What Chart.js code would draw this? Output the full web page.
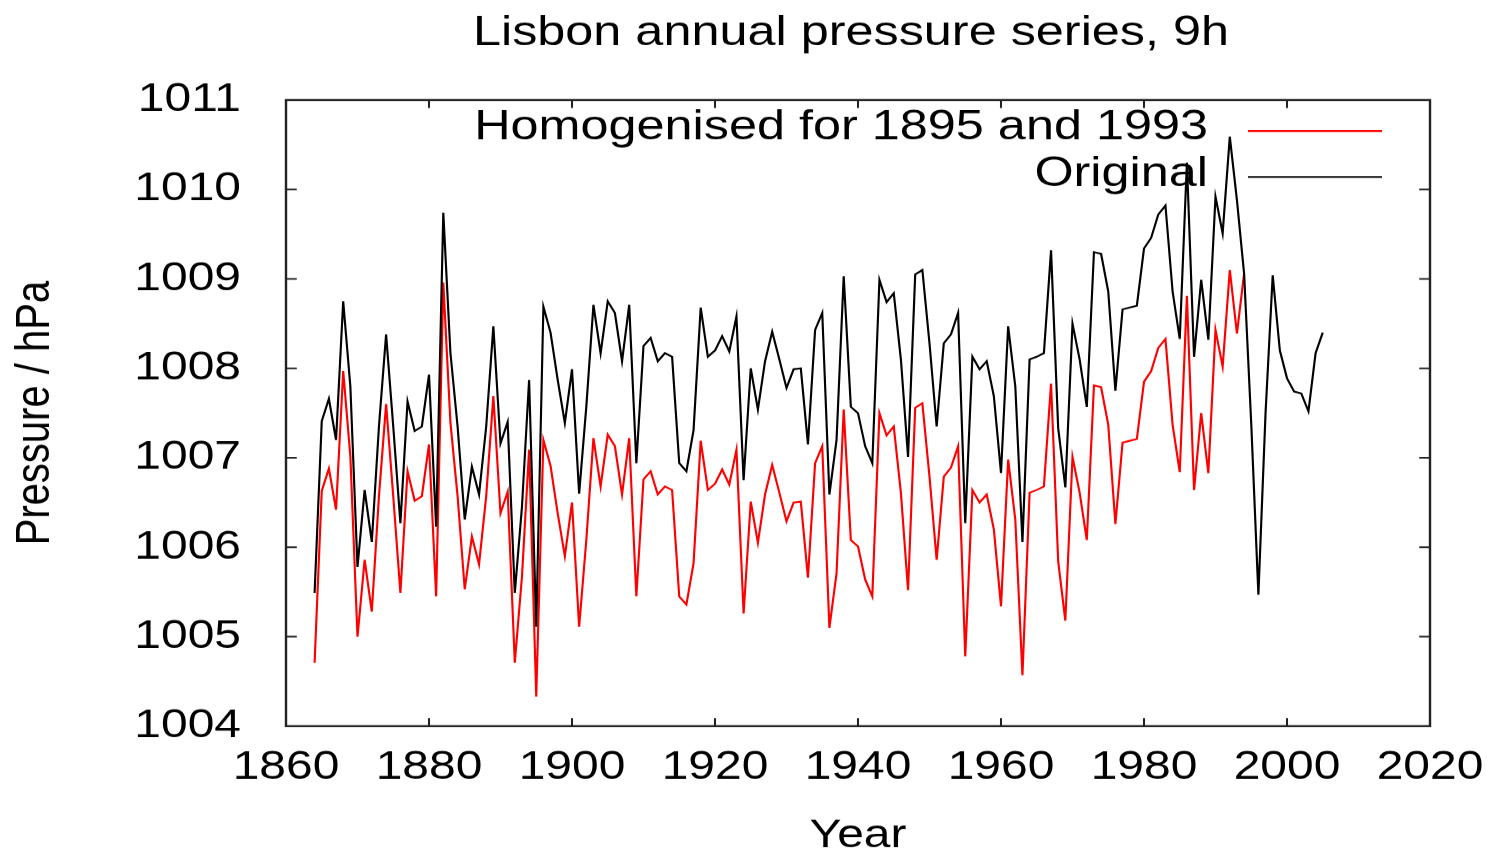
<!DOCTYPE html>
<html>
<head>
<meta charset="utf-8">
<title>Lisbon annual pressure series, 9h</title>
<script src="https://cdn.jsdelivr.net/npm/chart.js"></script>
<style>
  html, body { margin: 0; padding: 0; background: #fff; overflow: hidden; }
</style>
</head>
<body>
<canvas id="chart" width="1243" height="853" style="width:1491px;height:853px"></canvas>
<script>
// data (hPa, one value per year)
const firstYear = 1864;

const originalValues = [
  1005.49, 1007.41, 1007.66, 1007.2, 1008.75, 1007.8,                                 // 1864-69
  1005.78, 1006.64, 1006.06, 1007.35, 1008.38, 1007.35, 1006.27, 1007.63, 1007.3, 1007.35,  // 1870s
  1007.93, 1006.23, 1009.74, 1008.17, 1007.35, 1006.31, 1006.9, 1006.59, 1007.35, 1008.47,  // 1880s
  1007.16, 1007.4, 1005.49, 1006.45, 1007.87, 1005.11, 1008.69, 1008.4, 1007.87, 1007.39,   // 1890s
  1007.99, 1006.6, 1007.57, 1008.71, 1008.17, 1008.75, 1008.62, 1008.08, 1008.71, 1006.94,  // 1900s
  1008.25, 1008.34, 1008.08, 1008.17, 1008.13, 1006.94, 1006.85, 1007.31, 1008.68, 1008.13, // 1910s
  1008.2, 1008.36, 1008.19, 1008.58, 1006.75, 1008.0, 1007.54, 1008.08, 1008.41, 1008.1,    // 1920s
  1007.78, 1007.99, 1008.0, 1007.15, 1008.43, 1008.62, 1006.59, 1007.2, 1009.03, 1007.57,   // 1930s
  1007.5, 1007.13, 1006.94, 1008.99, 1008.74, 1008.84, 1008.1, 1007.01, 1009.05, 1009.1,    // 1940s
  1008.28, 1007.35, 1008.28, 1008.38, 1008.62, 1006.27, 1008.13, 1007.99, 1008.08, 1007.69, // 1950s
  1006.83, 1008.47, 1007.8, 1006.06, 1008.1, 1008.13, 1008.17, 1009.32, 1007.33, 1006.67,   // 1960s
  1008.5, 1008.1, 1007.57, 1009.3, 1009.28, 1008.86, 1007.75, 1008.66, 1008.68, 1008.7,     // 1970s
  1009.34, 1009.46, 1009.72, 1009.82, 1008.86, 1008.33, 1010.3, 1008.13, 1008.99, 1008.32,  // 1980s
  1009.92, 1009.51, 1010.59, 1009.88, 1009.06, 1007.38, 1005.47, 1007.5, 1009.04, 1008.2,   // 1990s
  1007.89, 1007.74, 1007.72, 1007.52, 1008.17, 1008.4                                  // 2000-05
];

const homogenisedValues = [
  1004.71, 1006.63, 1006.88, 1006.42, 1007.97, 1007.02,                               // 1864-69
  1005.0, 1005.86, 1005.28, 1006.57, 1007.6, 1006.57, 1005.49, 1006.85, 1006.52, 1006.57,   // 1870s
  1007.15, 1005.45, 1008.96, 1007.39, 1006.57, 1005.53, 1006.12, 1005.81, 1006.57, 1007.69, // 1880s
  1006.38, 1006.62, 1004.71, 1005.67, 1007.09, 1004.33, 1007.2, 1006.91, 1006.38, 1005.9,   // 1890s
  1006.5, 1005.11, 1006.08, 1007.22, 1006.68, 1007.26, 1007.13, 1006.59, 1007.22, 1005.45,  // 1900s
  1006.76, 1006.85, 1006.59, 1006.68, 1006.64, 1005.45, 1005.36, 1005.82, 1007.19, 1006.64, // 1910s
  1006.71, 1006.87, 1006.7, 1007.09, 1005.26, 1006.51, 1006.05, 1006.59, 1006.92, 1006.61,  // 1920s
  1006.29, 1006.5, 1006.51, 1005.66, 1006.94, 1007.13, 1005.1, 1005.71, 1007.54, 1006.08,   // 1930s
  1006.01, 1005.64, 1005.45, 1007.5, 1007.25, 1007.35, 1006.61, 1005.52, 1007.56, 1007.61,  // 1940s
  1006.79, 1005.86, 1006.79, 1006.89, 1007.13, 1004.78, 1006.64, 1006.5, 1006.59, 1006.2,   // 1950s
  1005.34, 1006.98, 1006.31, 1004.57, 1006.61, 1006.64, 1006.68, 1007.83, 1005.84, 1005.18, // 1960s
  1007.01, 1006.61, 1006.08, 1007.81, 1007.79, 1007.37, 1006.26, 1007.17, 1007.19, 1007.21, // 1970s
  1007.85, 1007.97, 1008.23, 1008.33, 1007.37, 1006.84, 1008.81, 1006.64, 1007.5, 1006.83,  // 1980s
  1008.43, 1008.02, 1009.1, 1008.39, 1009.06                                           // 1990-94
];

const xTicks = [1860, 1880, 1900, 1920, 1940, 1960, 1980, 2000, 2020];
const yTicks = [1004, 1005, 1006, 1007, 1008, 1009, 1010, 1011];

// the reference is stretched sideways, so draw narrow and widen the canvas
const S = 1491 / 1243;
const px = v => v / S;
const FONT = "'Liberation Sans', Arial, Helvetica, sans-serif";
Chart.defaults.font.family = FONT;
Chart.defaults.color = '#000';

function toPoints(values) {
  return values.map((v, i) => ({ x: firstYear + i, y: v }));
}

// box, inward ticks on all four sides, key and title like gnuplot
const gnuplotFrame = {
  id: 'gnuplotFrame',
  afterDatasetsDraw(chart) {
    const { ctx, chartArea: a, scales } = chart;
    ctx.save();
    ctx.strokeStyle = '#222';
    ctx.lineWidth = 1.7;
    ctx.beginPath();
    scales.x.ticks.forEach(t => {
      const p = scales.x.getPixelForValue(t.value);
      if (p <= a.left + 1 || p >= a.right - 1) return;
      ctx.moveTo(p, a.bottom); ctx.lineTo(p, a.bottom - 8);
      ctx.moveTo(p, a.top); ctx.lineTo(p, a.top + 8);
    });
    scales.y.ticks.forEach(t => {
      const p = scales.y.getPixelForValue(t.value);
      if (p <= a.top + 1 || p >= a.bottom - 1) return;
      ctx.moveTo(a.left, p); ctx.lineTo(a.left + 9, p);
      ctx.moveTo(a.right, p); ctx.lineTo(a.right - 9, p);
    });
    ctx.stroke();
    ctx.lineWidth = 2;
    ctx.strokeRect(a.left, a.top, a.right - a.left, a.bottom - a.top);

    // key
    ctx.font = '42px ' + FONT;
    ctx.textAlign = 'right';
    ctx.textBaseline = 'middle';
    const rows = [chart.data.datasets[1], chart.data.datasets[0]];
    rows.forEach((ds, i) => {
      const yText = 128 + i * 46;
      ctx.fillStyle = '#000';
      ctx.fillText(ds.label, px(1208), yText);
      ctx.strokeStyle = ds.borderColor;
      ctx.lineWidth = 1.7;
      ctx.beginPath();
      ctx.moveTo(px(1248), yText + 3);
      ctx.lineTo(px(1382), yText + 3);
      ctx.stroke();
    });
    ctx.restore();
  },
  afterDraw(chart) {
    const ctx = chart.ctx;
    ctx.save();
    ctx.font = '42px ' + FONT;
    ctx.fillStyle = '#000';
    ctx.textAlign = 'center';
    ctx.textBaseline = 'alphabetic';
    ctx.fillText('Lisbon annual pressure series, 9h', px(851), 45);
    ctx.restore();
  }
};

new Chart(document.getElementById('chart'), {
  type: 'line',
  data: {
    datasets: [
      {
        label: 'Original',
        data: toPoints(originalValues),
        borderColor: '#000000',
        borderWidth: 1.8,
        pointRadius: 0,
        tension: 0,
        order: 0
      },
      {
        label: 'Homogenised for 1895 and 1993',
        data: toPoints(homogenisedValues),
        borderColor: '#ff0000',
        borderWidth: 1.8,
        pointRadius: 0,
        tension: 0,
        order: 1
      }
    ]
  },
  options: {
    responsive: false,
    devicePixelRatio: S,
    animation: false,
    layout: { padding: { left: 0, top: 100, bottom: 0, right: 1243 - px(1430) } },
    plugins: {
      legend: { display: false },
      tooltip: { enabled: false },
      title: { display: false }
    },
    scales: {
      x: {
        type: 'linear',
        min: xTicks[0],
        max: xTicks[xTicks.length - 1],
        afterBuildTicks: s => { s.ticks = xTicks.map(v => ({ value: v })); },
        afterFit: s => {
          s.height = 853 - 726;
          s.paddingLeft = 0;
          s.paddingRight = 0;
        },
        grid: { display: false, drawTicks: false },
        border: { display: false },
        ticks: {
          font: { size: 40 },
          padding: 18,
          maxRotation: 0,
          autoSkip: false,
          callback: v => String(v)
        },
        title: {
          display: true,
          text: 'Year',
          font: { size: 40, lineHeight: 0.85 },
          padding: 0
        }
      },
      y: {
        min: yTicks[0],
        max: yTicks[yTicks.length - 1],
        afterBuildTicks: s => { s.ticks = yTicks.map(v => ({ value: v })); },
        afterFit: s => {
          s.width = px(286);
          s.paddingTop = 0;
          s.paddingBottom = 0;
        },
        grid: { display: false, drawTicks: false },
        border: { display: false },
        ticks: {
          font: { size: 40 },
          padding: px(286) - px(241),
          autoSkip: false,
          callback: v => String(v)
        },
        title: {
          display: true,
          text: 'Pressure / hPa',
          font: { size: 40, lineHeight: 1.2 },
          padding: { top: 6, bottom: 0 }
        }
      }
    }
  },
  plugins: [gnuplotFrame]
});
</script>
</body>
</html>
